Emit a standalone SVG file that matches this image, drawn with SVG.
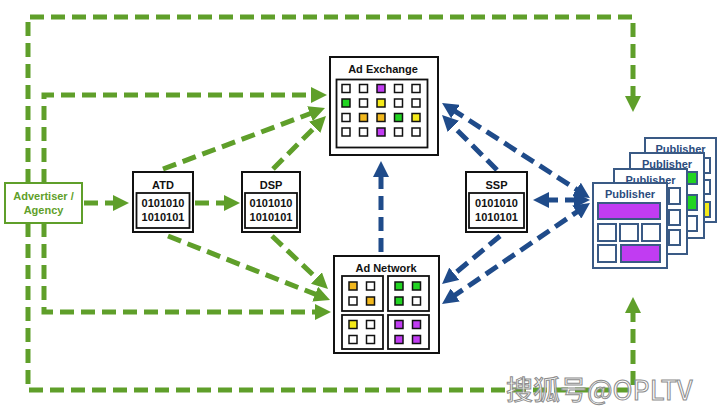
<svg xmlns="http://www.w3.org/2000/svg" width="720" height="413" viewBox="0 0 720 413">
<defs>
<style>
.g{fill:none;stroke:#5f9f2a;stroke-width:5;stroke-dasharray:14 7}
.b{fill:none;stroke:#1f4b8a;stroke-width:5;stroke-dasharray:14 7}
.box{fill:#fff;stroke:#111;stroke-width:2}
.in{fill:#fff;stroke:#111;stroke-width:1.8}
.c{stroke:#111;stroke-width:1.5}
.t{font-family:"Liberation Sans",Arial,sans-serif;font-weight:bold;font-size:11px;fill:#111;text-anchor:middle}
.pt{fill:#2b4c7e}
.at{fill:#5f9f2a}
.pg{fill:#fff;stroke:#3a5a85;stroke-width:2}
.pb{stroke:#3a5a85;stroke-width:2}
.w{fill:#fff}.p{fill:#c13cf2}.gr{fill:#22d422}.y{fill:#f5ea1a}.o{fill:#f2b81e}
</style>
<marker id="ag" markerUnits="userSpaceOnUse" markerWidth="16" markerHeight="16" refX="5" refY="8" orient="auto-start-reverse"><path d="M0,0 L16,8 L0,16 z" fill="#5f9f2a"/></marker>
<marker id="ab" markerUnits="userSpaceOnUse" markerWidth="16" markerHeight="16" refX="5" refY="8" orient="auto-start-reverse"><path d="M0,0 L16,8 L0,16 z" fill="#1f4b8a"/></marker>
</defs>
<rect width="720" height="413" fill="#fff"/>

<g id="connectors">
<path class="g" d="M28,183 V17 H633 V101" marker-end="url(#ag)"/>
<path class="g" d="M28,223 V390 H633 V308" marker-end="url(#ag)"/>
<path class="g" d="M44,183 V95 H316" marker-end="url(#ag)"/>
<path class="g" d="M44,223 V312 H320" marker-end="url(#ag)"/>
<path class="g" d="M84,203 H118" marker-end="url(#ag)"/>
<path class="g" d="M195,203 H229" marker-end="url(#ag)"/>
<path class="g" d="M163,169 L314.7,111.9" marker-end="url(#ag)"/>
<path class="g" d="M273,169 L318.2,123.8" marker-end="url(#ag)"/>
<path class="g" d="M168,236 L319.8,296" marker-end="url(#ag)"/>
<path class="g" d="M272,236 L320,281.4" marker-end="url(#ag)"/>
<path class="b" d="M381,252 V172" marker-end="url(#ab)"/>
<path class="b" d="M497,170 L449.8,122.8" marker-end="url(#ab)"/>
<path class="b" d="M451.3,108.9 L580.7,192.1" marker-start="url(#ab)" marker-end="url(#ab)"/>
<path class="b" d="M544,200 H579" marker-start="url(#ab)" marker-end="url(#ab)"/>
<path class="b" d="M500,236 L450.5,277" marker-end="url(#ab)"/>
<path class="b" d="M451.1,297.8 L580.9,209.2" marker-start="url(#ab)" marker-end="url(#ab)"/>
</g>

<g id="advertiser">
<rect x="5" y="183" width="77" height="40" fill="#fff" stroke="#5f9f2a" stroke-width="2"/>
<text class="t at" x="43.5" y="200">Advertiser /</text>
<text class="t at" x="43.5" y="214">Agency</text>
</g>

<g id="atd">
<rect class="box" x="133" y="172" width="60" height="60"/>
<text class="t" x="163" y="189">ATD</text>
<rect class="in" x="136.5" y="193" width="53" height="35"/>
<text class="t" x="163" y="207">0101010</text>
<text class="t" x="163" y="221">1010101</text>
</g>

<g id="dsp">
<rect class="box" x="242" y="172" width="58" height="60"/>
<text class="t" x="271" y="189">DSP</text>
<rect class="in" x="245" y="193" width="52" height="35"/>
<text class="t" x="271" y="207">0101010</text>
<text class="t" x="271" y="221">1010101</text>
</g>

<g id="ssp">
<rect class="box" x="466" y="172" width="61" height="60"/>
<text class="t" x="496.5" y="189">SSP</text>
<rect class="in" x="469" y="193" width="55" height="35"/>
<text class="t" x="496.5" y="207">0101010</text>
<text class="t" x="496.5" y="221">1010101</text>
</g>

<g id="ad-exchange">
<rect class="box" x="330" y="57" width="108" height="98"/>
<text class="t" x="383" y="73">Ad Exchange</text>
<rect class="in" x="336.5" y="79.5" width="91" height="68"/>
<rect class="c w" x="342" y="84.5" width="8" height="8"/>
<rect class="c w" x="359.5" y="84.5" width="8" height="8"/>
<rect class="c p" x="377" y="84.5" width="8" height="8"/>
<rect class="c w" x="394.5" y="84.5" width="8" height="8"/>
<rect class="c w" x="412" y="84.5" width="8" height="8"/>
<rect class="c gr" x="342" y="99" width="8" height="8"/>
<rect class="c w" x="359.5" y="99" width="8" height="8"/>
<rect class="c y" x="377" y="99" width="8" height="8"/>
<rect class="c w" x="394.5" y="99" width="8" height="8"/>
<rect class="c w" x="412" y="99" width="8" height="8"/>
<rect class="c w" x="342" y="113.5" width="8" height="8"/>
<rect class="c o" x="359.5" y="113.5" width="8" height="8"/>
<rect class="c o" x="377" y="113.5" width="8" height="8"/>
<rect class="c gr" x="394.5" y="113.5" width="8" height="8"/>
<rect class="c y" x="412" y="113.5" width="8" height="8"/>
<rect class="c w" x="342" y="128" width="8" height="8"/>
<rect class="c w" x="359.5" y="128" width="8" height="8"/>
<rect class="c p" x="377" y="128" width="8" height="8"/>
<rect class="c w" x="394.5" y="128" width="8" height="8"/>
<rect class="c w" x="412" y="128" width="8" height="8"/>
</g>

<g id="ad-network">
<rect class="box" x="334" y="256" width="105" height="97"/>
<text class="t" x="386" y="272">Ad Network</text>
<rect class="in" x="342" y="276" width="41" height="35"/>
<rect class="in" x="388" y="276" width="41" height="35"/>
<rect class="in" x="342" y="315" width="41" height="34"/>
<rect class="in" x="388" y="315" width="41" height="34"/>
<rect class="c o" x="349" y="282" width="8" height="8"/>
<rect class="c w" x="366.5" y="282" width="8" height="8"/>
<rect class="c w" x="349" y="297" width="8" height="8"/>
<rect class="c o" x="366.5" y="297" width="8" height="8"/>
<rect class="c gr" x="395" y="282" width="8" height="8"/>
<rect class="c gr" x="412.5" y="282" width="8" height="8"/>
<rect class="c gr" x="395" y="297" width="8" height="8"/>
<rect class="c w" x="412.5" y="297" width="8" height="8"/>
<rect class="c y" x="349" y="320.5" width="8" height="8"/>
<rect class="c w" x="366.5" y="320.5" width="8" height="8"/>
<rect class="c w" x="349" y="335.5" width="8" height="8"/>
<rect class="c w" x="366.5" y="335.5" width="8" height="8"/>
<rect class="c p" x="395" y="320.5" width="8" height="8"/>
<rect class="c p" x="412.5" y="320.5" width="8" height="8"/>
<rect class="c p" x="395" y="335.5" width="8" height="8"/>
<rect class="c p" x="412.5" y="335.5" width="8" height="8"/>
</g>

<g id="publishers">
<rect class="pg" x="645" y="138" width="71" height="84"/>
<text class="t pt" x="680.5" y="153">Publisher</text>
<rect class="pb w" x="699" y="158" width="11" height="15"/>
<rect class="pb w" x="699" y="180" width="11" height="14"/>
<rect class="pb y" x="699" y="202" width="11" height="15"/>

<rect class="pg" x="630" y="153" width="74" height="85"/>
<text class="t pt" x="667" y="168">Publisher</text>
<rect class="pb gr" x="686" y="172" width="11" height="12"/>
<rect class="pb gr" x="686" y="195" width="11" height="15"/>
<rect class="pb w" x="686" y="216" width="11" height="15"/>

<rect class="pg" x="614" y="169" width="73" height="85"/>
<text class="t pt" x="650.5" y="184">Publisher</text>
<rect class="pb w" x="669" y="188" width="11" height="16"/>
<rect class="pb w" x="669" y="210" width="11" height="15"/>
<rect class="pb w" x="669" y="230" width="11" height="15"/>

<rect class="pg" x="593" y="183" width="74" height="85"/>
<text class="t pt" x="630" y="198">Publisher</text>
<rect class="pb p" x="598" y="203" width="62" height="16"/>
<rect class="pb w" x="598" y="224" width="18" height="17"/>
<rect class="pb w" x="620" y="224" width="18" height="17"/>
<rect class="pb w" x="642" y="224" width="18" height="17"/>
<rect class="pb w" x="598" y="245" width="18" height="17"/>
<rect class="pb p" x="621" y="245" width="39" height="17"/>
</g>

<text x="506" y="400" font-family="'Noto Sans CJK SC','Liberation Sans',sans-serif" font-size="27" fill="#fff" fill-opacity="0.85" stroke="#8c8c8c" stroke-width="1">搜狐号@OPLTV</text>
</svg>
